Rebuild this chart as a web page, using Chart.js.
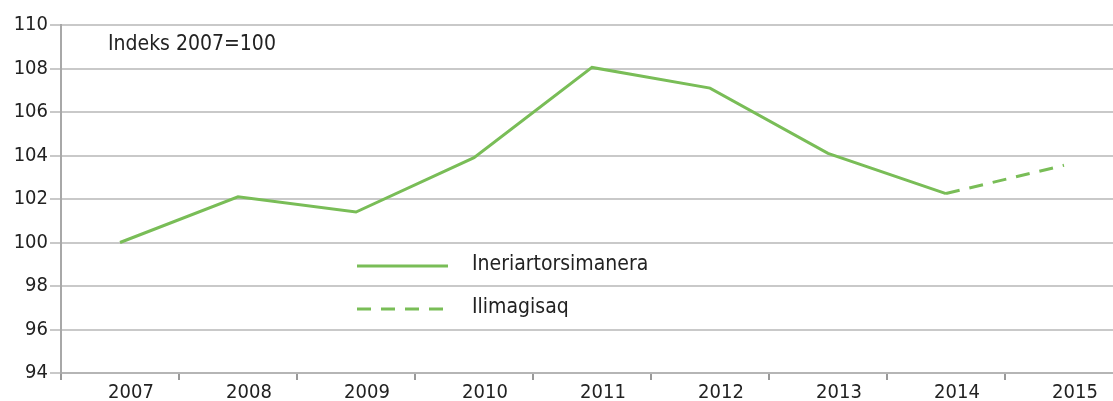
<!DOCTYPE html>
<html>
<head>
<meta charset="utf-8">
<script src="https://cdn.jsdelivr.net/npm/chart.js@4/dist/chart.umd.min.js"></script>
<style>
    html, body { margin: 0; padding: 0; background: #fff; overflow: hidden; }
    #wrap { width: 1123px; height: 401px; }
</style>
</head>
<body>
<div id="wrap"><canvas id="indexChart"></canvas></div>
<script>
const years = ["2007", "2008", "2009", "2010", "2011", "2012", "2013", "2014", "2015"];
const actual = [100, 102.1, 101.4, 103.9, 108.05, 107.1, 104.1, 102.25, null];
const forecast = [null, null, null, null, null, null, null, 102.25, 103.55];
const seriesNames = ["Ineriartorsimanera", "Ilimagisaq"];
const noteText = "Indeks 2007=100";

const green = "#79bd57";
const fontFamily = "'DejaVu Sans Condensed', 'DejaVu Sans', sans-serif";

// legend + note drawn inside the plot area
const insideLegend = {
    id: "insideLegend",
    afterDraw(chart) {
        const ctx = chart.ctx;
        ctx.save();
        ctx.fillStyle = "#222";
        ctx.textBaseline = "middle";
        ctx.font = "21px " + fontFamily;
        ctx.fillText(noteText, 108, 45);

        const rows = [
            { y: 266, dash: [] },
            { y: 309, dash: [14, 10] },
        ];
        rows.forEach((row, i) => {
            ctx.strokeStyle = green;
            ctx.lineWidth = 3;
            ctx.setLineDash(row.dash);
            ctx.beginPath();
            ctx.moveTo(357, row.y);
            ctx.lineTo(448, row.y);
            ctx.stroke();
            ctx.setLineDash([]);
            ctx.fillText(seriesNames[i], 472, row.y - 1);
        });
        ctx.restore();
    },
};

function renderIndexChart() {
    const ctx = document.getElementById("indexChart").getContext("2d");

    new Chart(ctx, {
        type: "line",
        data: {
            labels: years,
            datasets: [
                {
                    label: seriesNames[0],
                    data: actual,
                    borderColor: green,
                    borderWidth: 3,
                    pointRadius: 0,
                    tension: 0,
                },
                {
                    label: seriesNames[1],
                    data: forecast,
                    borderColor: green,
                    borderWidth: 3,
                    borderDash: [14, 10],
                    pointRadius: 0,
                    tension: 0,
                },
            ],
        },
        options: {
            responsive: true,
            maintainAspectRatio: false,
            animation: false,
            layout: { padding: { top: 25, right: 0, left: 0, bottom: 0 } },
            plugins: {
                legend: { display: false },
                tooltip: { enabled: false },
            },
            scales: {
                x: {
                    offset: true,
                    afterFit(scale) { scale.height = 28; },
                    grid: {
                        offset: true,
                        drawOnChartArea: false,
                        drawTicks: true,
                        tickLength: 7,
                        color: "#999",
                        lineWidth: 2,
                    },
                    border: { color: "#b5b5b5", width: 2 },
                    ticks: {
                        color: "#222",
                        font: { family: fontFamily, size: 20 },
                        labelOffset: 11,
                        padding: 1,
                        maxRotation: 0,
                    },
                },
                y: {
                    min: 94,
                    max: 110,
                    afterFit(scale) { scale.width = 61; },
                    grid: {
                        color: "#c9c9c9",
                        lineWidth: 2,
                        tickLength: 11,
                    },
                    border: { color: "#a8a8a8", width: 2 },
                    ticks: {
                        stepSize: 2,
                        color: "#222",
                        font: { family: fontFamily, size: 20 },
                        padding: 2,
                    },
                },
            },
        },
        plugins: [insideLegend],
    });
}

document.addEventListener("DOMContentLoaded", renderIndexChart);
</script>
</body>
</html>
